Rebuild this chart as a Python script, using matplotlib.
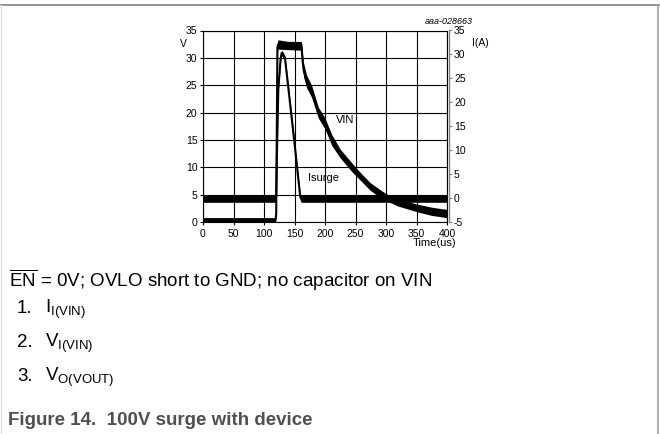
import matplotlib
matplotlib.use('Agg')
import matplotlib.pyplot as plt
from matplotlib.lines import Line2D

plt.rcParams['font.family'] = ['Liberation Sans', 'DejaVu Sans']
plt.rcParams['mathtext.fontset'] = 'custom'
plt.rcParams['mathtext.rm'] = 'Liberation Sans'
plt.rcParams['mathtext.it'] = 'Liberation Sans:italic'
plt.rcParams['mathtext.bf'] = 'Liberation Sans:bold'
plt.rcParams['axes.unicode_minus'] = False

# VIN trace (left axis, V): time in us, lower / upper edge of the noisy trace
vin_t = [0, 119, 120, 121, 122, 123, 140, 161, 162, 163, 165, 170, 178,
         189, 200, 211, 225, 244, 260, 274, 293, 300, 320, 350, 375, 400]
vin_lo = [0.0, 0.0, 1.0, 16.0, 31.0, 31.6, 31.5, 31.4, 30.5, 28.5, 26.5, 24.5, 22.8,
          19.0, 17.0, 14.0, 11.7, 9.2, 7.4, 5.8, 4.3, 3.9, 2.9, 1.9, 1.2, 0.8]
vin_hi = [0.8, 0.8, 2.0, 18.0, 33.0, 33.3, 33.0, 33.0, 32.5, 31.0, 29.0, 26.8, 25.0,
          21.0, 19.0, 16.0, 13.3, 10.8, 8.8, 7.2, 5.7, 5.2, 4.2, 3.3, 2.7, 2.3]

# Isurge trace (drawn on the V scale, 0 A sits at ~4.4 V)
isurge_t = [0, 119.5, 120, 121.5, 123.5, 127.3, 129, 131, 134.4, 140, 150, 159.5, 161, 400]
isurge_lo = [3.6, 3.6, 4.5, 13.5, 23.9, 29.4, 30.4, 30.1, 29.4, 23.9, 13.9, 4.0, 3.6, 3.6]
isurge_hi = [4.9, 4.9, 5.5, 14.5, 24.9, 30.4, 31.4, 31.1, 30.4, 24.9, 14.9, 5.0, 4.9, 4.9]

x_ticks = [0, 50, 100, 150, 200, 250, 300, 350, 400]
v_ticks = [0, 5, 10, 15, 20, 25, 30, 35]
i_ticks = [-5, 0, 5, 10, 15, 20, 25, 30, 35]

caption = r'$\overline{\mathrm{EN}}$ = 0V; OVLO short to GND; no capacitor on VIN'
items = [r'$\mathrm{I}_{\mathrm{I(VIN)}}$', r'$\mathrm{V}_{\mathrm{I(VIN)}}$', r'$\mathrm{V}_{\mathrm{O(VOUT)}}$']
title = 'Figure 14.  100V surge with device'

W, H = 660, 434
fig = plt.figure(figsize=(W / 100, H / 100), dpi=100)
ax = fig.add_axes([203 / W, 1 - 222 / H, 244 / W, 191.5 / H])

for t, lo, hi in [(vin_t, vin_lo, vin_hi), (isurge_t, isurge_lo, isurge_hi)]:
    mid = [(a + b) / 2 for a, b in zip(lo, hi)]
    ax.fill_between(t, lo, hi, color='black', lw=0, zorder=3)
    ax.plot(t, mid, color='black', lw=1.5, zorder=3)

ax.set_xlim(0, 400)
ax.set_ylim(0, 35)
ax.set_xticks(x_ticks)
ax.set_yticks(v_ticks)
ax.grid(True, color='black', lw=0.8)
ax.set_axisbelow(True)
for s in ax.spines.values():
    s.set_color('black')
    s.set_linewidth(0.8)
ax.tick_params(axis='both', labelsize=7.5, length=2.5, width=0.8, color='black')
ax.tick_params(axis='y', pad=1.5)
ax.tick_params(axis='x', pad=2.5)

ax.text(233, 18.6, 'VIN', fontsize=8, ha='center', va='center', zorder=4)
ax.text(197, 8.0, 'Isurge', fontsize=8, ha='center', va='center', zorder=4)

ax2 = ax.twinx()
ax2.set_ylim(-5, 35)
ax2.set_yticks(i_ticks)
for k in ['left', 'top', 'bottom']:
    ax2.spines[k].set_visible(False)
ax2.spines['right'].set_color('#808080')
ax2.spines['right'].set_linewidth(1.0)
ax2.spines['right'].set_position(('outward', 1.5))
ax2.tick_params(axis='y', labelsize=7.5, length=2.5, width=0.8, color='#808080', pad=1)

fig.text(183 / W, 1 - 44 / H, 'V', fontsize=7.5, ha='center', va='center')
fig.text(480 / W, 1 - 43 / H, 'I(A)', fontsize=7.5, ha='center', va='center')
fig.text(473 / W, 1 - 22 / H, 'aaa-028663', fontsize=6.5, style='italic', ha='right', va='center')
fig.text(456 / W, 1 - 243 / H, 'Time(us)', fontsize=8, ha='right', va='center')

# caption block
fig.text(9 / W, 1 - 287 / H, caption, fontsize=13.5, ha='left', va='baseline')
for i, it in enumerate(items):
    y = 1 - (313 + 34 * i) / H
    fig.text(17 / W, y, f'{i + 1}.', fontsize=13.5, ha='left', va='baseline')
    fig.text(45 / W, y, it, fontsize=13.5, ha='left', va='baseline')
fig.text(8 / W, 1 - 425 / H, title, fontsize=13.5, fontweight='bold', color='#505050',
         ha='left', va='baseline')

# thin frame around the figure
fig.add_artist(Line2D([0, 1], [1 - 4.5 / H, 1 - 4.5 / H], transform=fig.transFigure, color='#808080', lw=1.2))
fig.add_artist(Line2D([657.5 / W, 657.5 / W], [0, 1 - 4.5 / H], transform=fig.transFigure, color='#a0a0a0', lw=1.2))
fig.add_artist(Line2D([0.8 / W, 0.8 / W], [0, 1 - 4.5 / H], transform=fig.transFigure, color='#e0e0e0', lw=1.0))

fig.savefig('out.png', dpi=100)
